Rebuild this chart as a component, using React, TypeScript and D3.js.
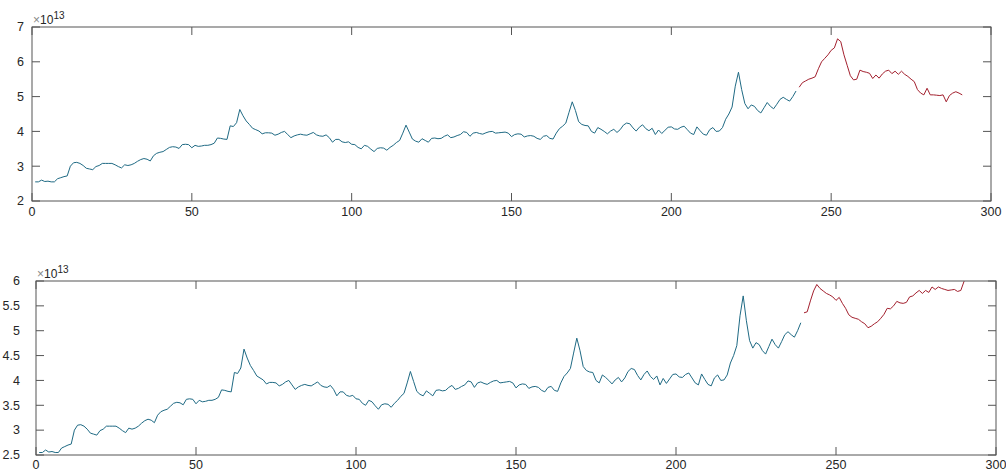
import React from "react";
import * as d3 from "d3";

// ---------- data (values in units of 1e13) ----------
const blueStart = 1;
const blueSeries = [
  2.55, 2.55, 2.6, 2.56, 2.57, 2.55, 2.55, 2.64, 2.67, 2.7,
  2.72, 3.0, 3.1, 3.11, 3.08, 3.02, 2.94, 2.92, 2.9, 2.99,
  3.02, 3.08, 3.08, 3.08, 3.08, 3.04, 2.99, 2.95, 3.04, 3.02,
  3.04, 3.08, 3.14, 3.19, 3.22, 3.2, 3.15, 3.3, 3.37, 3.4,
  3.42, 3.48, 3.54, 3.56, 3.55, 3.51, 3.62, 3.63, 3.62, 3.53,
  3.6, 3.57, 3.58, 3.6, 3.6, 3.62, 3.66, 3.81, 3.8, 3.78,
  3.77, 4.16, 4.14, 4.25, 4.63, 4.45, 4.3, 4.2, 4.09, 4.05,
  4.01, 3.93, 3.96, 3.96, 3.95, 3.89, 3.92, 3.97, 4.0, 3.91,
  3.82, 3.87, 3.9, 3.92, 3.9, 3.89, 3.93, 3.97, 3.9, 3.87,
  3.86, 3.9, 3.82, 3.69, 3.77, 3.77, 3.7, 3.68, 3.7, 3.63,
  3.62, 3.54, 3.5, 3.6, 3.57, 3.49, 3.42, 3.51, 3.53, 3.52,
  3.46, 3.54, 3.6, 3.68, 3.74, 3.95, 4.18, 3.98, 3.78, 3.72,
  3.69, 3.79, 3.74, 3.69, 3.8, 3.81, 3.79, 3.8, 3.86, 3.9,
  3.82, 3.84, 3.88, 3.91, 3.99, 3.97, 3.86, 3.95, 3.97, 3.94,
  3.92, 3.96, 3.99, 4.0, 3.95, 3.96, 3.97, 3.98, 3.95, 3.85,
  3.91, 3.93, 3.92, 3.84, 3.87, 3.88, 3.86, 3.8, 3.77, 3.86,
  3.88, 3.8, 3.78, 3.95, 4.08, 4.15, 4.24, 4.55, 4.85, 4.6,
  4.28, 4.2, 4.17, 4.16, 4.0, 3.95, 4.11, 4.06, 4.0, 3.93,
  4.01, 4.06, 3.97, 4.05, 4.18, 4.24, 4.22, 4.1, 4.01, 4.12,
  4.19, 4.08, 4.02, 4.09, 3.91, 4.04, 3.94, 4.03, 4.12, 4.13,
  4.07, 4.06, 4.12, 4.15, 4.05, 3.95, 3.91, 4.13, 4.02, 3.92,
  3.89, 4.05, 4.11, 4.0, 4.01, 4.11, 4.35, 4.5, 4.7, 5.3,
  5.7, 5.2, 4.8, 4.65, 4.76, 4.72, 4.6, 4.53, 4.68, 4.83,
  4.72, 4.65, 4.78, 4.92, 4.98, 4.92, 4.87, 5.0, 5.16,
];
const redStart = 240;
const topRed = [
  5.27, 5.4, 5.45, 5.5, 5.53, 5.57, 5.8, 6.0, 6.1, 6.2,
  6.33, 6.4, 6.66, 6.58, 6.2, 5.9, 5.6, 5.48, 5.5, 5.76,
  5.72, 5.7, 5.67, 5.52, 5.62, 5.53, 5.65, 5.73, 5.76, 5.66,
  5.73, 5.64, 5.73, 5.64, 5.58, 5.5, 5.43, 5.2, 5.1, 5.05,
  5.24, 5.05, 5.05, 5.04, 5.03, 5.05, 4.85, 5.03, 5.1, 5.14,
  5.1, 5.05,
];
const bottomRed = [
  5.36, 5.38, 5.6, 5.8, 5.93, 5.85, 5.8, 5.75, 5.72, 5.68,
  5.61, 5.67, 5.55, 5.45, 5.32, 5.27, 5.25, 5.23, 5.18, 5.14,
  5.06, 5.09, 5.14, 5.18, 5.25, 5.33, 5.45, 5.44, 5.5, 5.59,
  5.56, 5.55, 5.57, 5.68, 5.7, 5.76, 5.81, 5.75, 5.81, 5.77,
  5.88, 5.83, 5.88, 5.85, 5.83, 5.81, 5.82, 5.83, 5.79, 5.81,
  5.99, 6.06,
];
const xTicks = [0, 50, 100, 150, 200, 250, 300];
const topYTicks = [2, 3, 4, 5, 6, 7];
const bottomYTicks = [2.5, 3, 3.5, 4, 4.5, 5, 5.5, 6];
const exponentLabel = "13";

const BLUE = "#1f6a84";
const RED = "#a3202e";
const AXIS = "#555555";
const TEXT = "#262626";
const FONT = "Liberation Sans, Arial, sans-serif";

type PanelProps = {
  id: string;
  left: number;
  right: number;
  top: number;
  bottom: number;
  yDomain: [number, number];
  yTicks: number[];
  red: number[];
  labelGap: number;
  xLabelOffset: number;
};

function Panel({ id, left, right, top, bottom, yDomain, yTicks, red, labelGap, xLabelOffset }: PanelProps) {
  const x = d3.scaleLinear().domain([0, 300]).range([left, right]);
  const y = d3.scaleLinear().domain(yDomain).range([bottom, top]);
  const line = d3
    .line<[number, number]>()
    .x((d) => x(d[0]))
    .y((d) => y(d[1]));
  const bluePts: [number, number][] = blueSeries.map((v, i) => [blueStart + i, v]);
  const redPts: [number, number][] = red.map((v, i) => [redStart + i, v]);
  const tl = 8;
  return (
    <g>
      <defs>
        <clipPath id={id}>
          <rect x={left} y={top} width={right - left} height={bottom - top} />
        </clipPath>
      </defs>
      <rect x={left} y={top} width={right - left} height={bottom - top} fill="#fff" />
      <g clipPath={`url(#${id})`}>
        <path d={line(bluePts) || ""} fill="none" stroke={BLUE} strokeWidth={1} />
        <path d={line(redPts) || ""} fill="none" stroke={RED} strokeWidth={1} />
      </g>
      <rect x={left} y={top} width={right - left} height={bottom - top} fill="none" stroke={AXIS} strokeWidth={1} />
      {xTicks.map((t) => (
        <g key={"x" + t}>
          <line x1={x(t)} x2={x(t)} y1={bottom} y2={bottom - tl} stroke={AXIS} />
          <line x1={x(t)} x2={x(t)} y1={top} y2={top + tl} stroke={AXIS} />
          <text x={x(t)} y={bottom + xLabelOffset} textAnchor="middle" fontSize={12.5} fill={TEXT} fontFamily={FONT}>
            {t}
          </text>
        </g>
      ))}
      {yTicks.map((t) => (
        <g key={"y" + t}>
          <line x1={left} x2={left + tl} y1={y(t)} y2={y(t)} stroke={AXIS} />
          <line x1={right} x2={right - tl} y1={y(t)} y2={y(t)} stroke={AXIS} />
          <text x={left - labelGap} y={y(t) + 4.3} textAnchor="end" fontSize={12.5} fill={TEXT} fontFamily={FONT}>
            {String(t)}
          </text>
        </g>
      ))}
      <text x={left + 1} y={top - 3} fontSize={12} fill={TEXT} fontFamily={FONT}>
        <tspan fill="#888">×</tspan>
        <tspan>10</tspan>
        <tspan dy={-5} fontSize={10}>{exponentLabel}</tspan>
      </text>
    </g>
  );
}

export default function App() {
  return (
    <svg
      width={1006}
      height={470}
      style={{ position: "absolute", left: 0, top: 0, background: "#fff" }}
    >
      <rect width={1006} height={470} fill="#fff" />
      <Panel id="clipTop" left={32} right={991} top={27} bottom={201} yDomain={[2, 7]} yTicks={topYTicks} red={topRed} labelGap={8} xLabelOffset={15} />
      <Panel id="clipBottom" left={36} right={996} top={281} bottom={455} yDomain={[2.5, 6]} yTicks={bottomYTicks} red={bottomRed} labelGap={16} xLabelOffset={13.5} />
    </svg>
  );
}
